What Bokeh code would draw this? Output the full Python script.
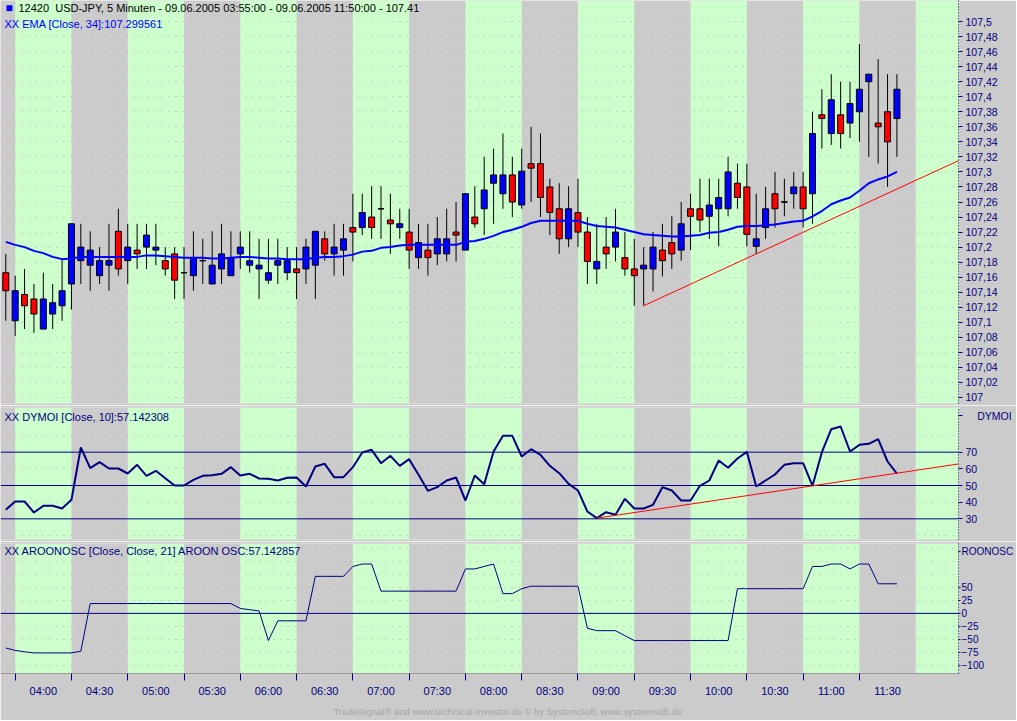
from bokeh.plotting import figure
from bokeh.layouts import column
from bokeh.models import (Range1d, FixedTicker, Label, Span, Title,
                          CustomJSTickFormatter, ColumnDataSource)
from bokeh.embed import file_html
from bokeh.resources import INLINE

# ---------------- data ----------------
opens = [107.166, 107.102, 107.137, 107.131, 107.091, 107.111, 107.122, 107.151, 107.182, 107.176,
         107.162, 107.176, 107.221, 107.182, 107.196, 107.200, 107.196, 107.182, 107.191, 107.166,
         107.162, 107.182, 107.151, 107.171, 107.162, 107.191, 107.176, 107.171, 107.156, 107.176,
         107.166, 107.171, 107.171, 107.176, 107.211, 107.191, 107.196, 107.226, 107.226, 107.240,
         107.251, 107.236, 107.226, 107.220, 107.186, 107.196, 107.191, 107.191, 107.220, 107.196,
         107.240, 107.251, 107.285, 107.271, 107.296, 107.256, 107.311, 107.311, 107.280, 107.251,
         107.211, 107.246, 107.220, 107.171, 107.200, 107.200, 107.186, 107.171, 107.171, 107.171,
         107.196, 107.206, 107.196, 107.251, 107.251, 107.241, 107.251, 107.251, 107.285, 107.280,
         107.201, 107.226, 107.271, 107.260, 107.271, 107.280, 107.271, 107.376, 107.351, 107.376,
         107.365, 107.380, 107.420, 107.365, 107.380, 107.371]
highs = [107.191, 107.162, 107.171, 107.151, 107.166, 107.151, 107.184, 107.231, 107.231, 107.221,
         107.200, 107.231, 107.251, 107.231, 107.231, 107.231, 107.231, 107.200, 107.200, 107.200,
         107.221, 107.211, 107.221, 107.231, 107.221, 107.221, 107.221, 107.211, 107.211, 107.211,
         107.200, 107.200, 107.211, 107.221, 107.221, 107.231, 107.231, 107.271, 107.271, 107.281,
         107.281, 107.271, 107.251, 107.251, 107.231, 107.231, 107.240, 107.251, 107.260, 107.271,
         107.281, 107.320, 107.331, 107.351, 107.320, 107.331, 107.360, 107.351, 107.291, 107.285,
         107.281, 107.291, 107.240, 107.231, 107.240, 107.251, 107.220, 107.211, 107.200, 107.220,
         107.231, 107.241, 107.260, 107.271, 107.291, 107.291, 107.291, 107.320, 107.311, 107.311,
         107.271, 107.280, 107.300, 107.291, 107.300, 107.300, 107.380, 107.410, 107.430, 107.420,
         107.420, 107.470, 107.430, 107.450, 107.430, 107.430]
lows = [107.102, 107.082, 107.091, 107.086, 107.091, 107.091, 107.102, 107.117, 107.151, 107.142,
        107.151, 107.142, 107.162, 107.151, 107.171, 107.171, 107.176, 107.162, 107.131, 107.131,
        107.142, 107.151, 107.151, 107.151, 107.162, 107.171, 107.166, 107.131, 107.151, 107.151,
        107.156, 107.131, 107.151, 107.131, 107.182, 107.162, 107.162, 107.181, 107.216, 107.211,
        107.211, 107.191, 107.211, 107.171, 107.171, 107.162, 107.176, 107.181, 107.181, 107.196,
        107.226, 107.216, 107.231, 107.251, 107.240, 107.251, 107.260, 107.240, 107.216, 107.191,
        107.200, 107.200, 107.151, 107.151, 107.171, 107.181, 107.162, 107.122, 107.122, 107.141,
        107.161, 107.171, 107.182, 107.196, 107.220, 107.211, 107.201, 107.241, 107.251, 107.201,
        107.191, 107.211, 107.226, 107.241, 107.251, 107.226, 107.231, 107.331, 107.336, 107.331,
        107.345, 107.340, 107.320, 107.311, 107.280, 107.320]
closes = [107.142, 107.142, 107.122, 107.111, 107.131, 107.126, 107.142, 107.231, 107.200, 107.196,
          107.182, 107.182, 107.171, 107.200, 107.191, 107.216, 107.200, 107.171, 107.156, 107.166,
          107.186, 107.182, 107.176, 107.191, 107.186, 107.200, 107.182, 107.176, 107.166, 107.182,
          107.182, 107.166, 107.200, 107.221, 107.191, 107.200, 107.211, 107.220, 107.246, 107.226,
          107.251, 107.231, 107.231, 107.196, 107.206, 107.186, 107.211, 107.211, 107.216, 107.271,
          107.231, 107.276, 107.296, 107.296, 107.260, 107.301, 107.305, 107.266, 107.246, 107.211,
          107.251, 107.220, 107.181, 107.181, 107.191, 107.220, 107.171, 107.162, 107.176, 107.200,
          107.182, 107.191, 107.231, 107.241, 107.236, 107.256, 107.266, 107.300, 107.266, 107.217,
          107.211, 107.251, 107.251, 107.260, 107.280, 107.251, 107.351, 107.371, 107.396, 107.351,
          107.391, 107.410, 107.430, 107.360, 107.340, 107.410]
ema34 = [107.207, 107.203, 107.200, 107.195, 107.192, 107.187, 107.184, 107.185, 107.187, 107.187,
         107.187, 107.187, 107.187, 107.187, 107.187, 107.189, 107.189, 107.188, 107.187, 107.186,
         107.186, 107.186, 107.185, 107.185, 107.186, 107.187, 107.187, 107.186, 107.185, 107.185,
         107.184, 107.184, 107.184, 107.186, 107.187, 107.187, 107.188, 107.190, 107.194, 107.195,
         107.199, 107.200, 107.202, 107.203, 107.203, 107.203, 107.203, 107.203, 107.203, 107.207,
         107.208, 107.211, 107.215, 107.220, 107.223, 107.227, 107.232, 107.235, 107.235, 107.235,
         107.235, 107.235, 107.231, 107.228, 107.227, 107.226, 107.223, 107.220, 107.217, 107.216,
         107.215, 107.214, 107.214, 107.215, 107.216, 107.219, 107.220, 107.223, 107.227, 107.228,
         107.228, 107.229, 107.230, 107.232, 107.234, 107.235, 107.241, 107.248, 107.257, 107.262,
         107.266, 107.275, 107.285, 107.290, 107.294, 107.300]
dymoi = [35.4, 40.4, 40.4, 33.8, 37.8, 37.8, 36.2, 41.4, 72.8, 60.4,
         64.0, 60.2, 60.2, 57.2, 62.4, 55.8, 58.8, 54.4, 50.0, 50.0,
         53.4, 55.8, 56.2, 57.0, 61.0, 56.0, 57.0, 54.2, 54.0, 53.0,
         54.6, 54.8, 49.4, 61.4, 63.0, 55.0, 55.0, 61.0, 69.8, 71.4,
         63.4, 67.8, 61.8, 65.8, 56.4, 46.8, 49.0, 53.0, 54.8, 41.0,
         56.0, 50.8, 70.4, 79.8, 79.8, 67.4, 71.8, 68.4, 61.8, 57.4,
         51.0, 47.0, 34.4, 30.4, 34.0, 32.4, 42.0, 36.2, 36.2, 38.4,
         49.0, 47.0, 41.0, 41.0, 49.8, 53.0, 65.0, 60.6, 66.2, 70.2,
         49.4, 53.0, 56.6, 62.4, 63.4, 63.4, 49.8, 70.0, 83.8, 85.4,
         70.4, 74.4, 75.0, 77.8, 64.4, 57.1]
aroon = [-66.7, -71.4, -74.0, -76.2, -76.2, -76.2, -76.2, -76.2, -73.0, 19.0,
         19.0, 19.0, 19.0, 19.0, 19.0, 19.0, 19.0, 19.0, 19.0, 19.0,
         19.0, 19.0, 19.0, 19.0, 19.0, 9.5, 7.1, 4.8, -52.4, -14.3,
         -14.3, -14.3, -14.3, 71.4, 71.4, 71.4, 71.4, 90.5, 95.2, 95.2,
         42.9, 42.9, 42.9, 42.9, 42.9, 42.9, 42.9, 42.9, 42.9, 85.7,
         85.7, 90.5, 95.2, 38.1, 38.1, 47.6, 52.4, 52.4, 52.4, 52.4,
         52.4, 52.4, -28.6, -33.3, -33.3, -33.3, -42.9, -52.4, -52.4, -52.4,
         -52.4, -52.4, -52.4, -52.4, -52.4, -52.4, -52.4, -52.4, 47.6, 47.6,
         47.6, 47.6, 47.6, 47.6, 47.6, 47.6, 90.5, 90.5, 95.2, 95.2,
         85.7, 95.2, 95.2, 57.1, 57.1, 57.1]

time_labels = ["04:00", "04:30", "05:00", "05:30", "06:00", "06:30", "07:00", "07:30",
               "08:00", "08:30", "09:00", "09:30", "10:00", "10:30", "11:00", "11:30"]
price_ticks = [107.0, 107.02, 107.04, 107.06, 107.08, 107.1, 107.12, 107.14, 107.16, 107.18,
               107.2, 107.22, 107.24, 107.26, 107.28, 107.3, 107.32, 107.34, 107.36, 107.38,
               107.4, 107.42, 107.44, 107.46, 107.48, 107.5]
dymoi_ticks = [30, 40, 50, 60, 70]
dymoi_grid = [20, 40, 60, 80]
dymoi_levels = [30, 50, 70]
aroon_ticks = [-100, -75, -50, -25, 0, 25, 50]
aroon_grid = [-100, -75, -50, -25, 25, 50, 75, 100, 125]
price_trend_bars = [68, 80]     # trend line through these lows
dymoi_trend_bars = [63, 86]     # trend line through these DYMOI values
dymoi_header = "DYMOI"
aroon_header = "ROONOSC"

# ---------------- style ----------------
GRAY = "#cbcbcb"
GREEN = "#ccffcc"
NAVY = "#000080"
GRIDC = "#c2a6c2"
FONT = "Liberation Sans"
W = 1016
BARS_PER_BAND = 6
n = len(closes)
bars = list(range(n))
XR = (-0.564, 101.564)

band_edges = [1 + BARS_PER_BAND * k for k in range(len(time_labels))]
label_pos = [e + BARS_PER_BAND / 2 for e in band_edges]
green_left = [1 + 2 * BARS_PER_BAND * k for k in range(9)]
green_right = [g + BARS_PER_BAND for g in green_left]


def make_fig(height, yr, top_b, bottom_b, xaxis, font_size="10.5px", tick_out=4, standoff=3):
    p = figure(width=W, height=height, x_range=Range1d(*XR), y_range=Range1d(*yr),
               output_backend="svg", toolbar_location=None, tools="",
               x_axis_location="below" if xaxis else None, y_axis_location="right",
               min_border_left=0, min_border_right=56, min_border_top=top_b,
               min_border_bottom=bottom_b)
    p.background_fill_color = GRAY
    p.border_fill_color = GRAY
    p.outline_line_color = None
    p.xgrid.grid_line_color = None
    p.ygrid.grid_line_color = GRIDC
    p.ygrid.grid_line_dash = "1 6"
    p.ygrid.grid_line_width = 1
    p.quad(left=green_left, right=green_right, top=[yr[1]] * len(green_left),
           bottom=[yr[0]] * len(green_left), fill_color=GREEN, line_color=None, level="image")
    ax = p.yaxis[0]
    ax.axis_line_color = NAVY
    ax.axis_line_dash = "1 2"
    ax.major_tick_out = tick_out
    ax.major_tick_in = 0
    ax.minor_tick_out = 0
    ax.minor_tick_in = 0
    ax.major_tick_line_color = NAVY
    ax.major_label_text_color = NAVY
    ax.major_label_text_font = FONT
    ax.major_label_text_font_size = font_size
    ax.major_label_standoff = standoff
    return p


def title(p, text, x, y, color, size="11px", align="left"):
    p.add_layout(Label(x=x, y=y, x_units="screen", y_units="screen", text=text,
                       text_color=color, text_font=FONT, text_font_size=size,
                       text_align=align, text_baseline="middle"))


# ---------------- price panel ----------------
p1 = make_fig(405, (106.992, 107.528), 0, 2, False)
p1.yaxis[0].ticker = FixedTicker(ticks=price_ticks)
p1.ygrid.ticker = FixedTicker(ticks=price_ticks)
p1.yaxis[0].formatter = CustomJSTickFormatter(
    code="return tick.toFixed(2).replace(/0+$/, '').replace(/[.]$/, '').replace('.', ',');")

colors = ["#0000ff" if c > o else ("#ff0000" if c < o else "#000000") for o, c in zip(opens, closes)]
src = ColumnDataSource(dict(x=bars, high=highs, low=lows,
                            top=[max(o, c) for o, c in zip(opens, closes)],
                            bottom=[min(o, c) for o, c in zip(opens, closes)],
                            color=colors))
p1.segment(x0="x", y0="low", x1="x", y1="high", source=src, line_color="black", line_width=1)
p1.vbar(x="x", width=0.64, top="top", bottom="bottom", fill_color="color",
        line_color="black", line_width=1, source=src)
doji = [i for i in bars if opens[i] == closes[i]]
p1.segment(x0=[i - 0.32 for i in doji], y0=[closes[i] for i in doji],
           x1=[i + 0.32 for i in doji], y1=[closes[i] for i in doji],
           line_color="black", line_width=1)
p1.line(bars, ema34, line_color="#0000ff", line_width=2)

a, b = price_trend_bars
slope = (lows[b] - lows[a]) / (b - a)
p1.line([a, XR[1]], [lows[a], lows[a] + slope * (XR[1] - a)], line_color="#ff0000", line_width=1)

title(p1, "\u25a0", 5, 395.5, "#0000ff", "12px")
title(p1, "12420\u00a0 USD-JPY, 5 Minuten - 09.06.2005 03:55:00 - 09.06.2005 11:50:00 - 107.41",
      18, 395.5, "#000000")
title(p1, "XX EMA [Close, 34]:107.299561", 4, 379.5, "#0000ff")

# ---------------- DYMOI panel ----------------
p2 = make_fig(136, (17.6, 96.8), 2, 2, False)
dy_head_pos = 92.0
p2.yaxis[0].ticker = FixedTicker(ticks=dymoi_ticks + [dy_head_pos])
p2.yaxis[0].major_label_overrides = {dy_head_pos: "\u00a0\u00a0\u00a0\u00a0" + dymoi_header}
p2.ygrid.ticker = FixedTicker(ticks=dymoi_grid)
for lv in dymoi_levels:
    p2.add_layout(Span(location=lv, dimension="width", line_color=NAVY, line_width=1, level="underlay"))
p2.line(bars, dymoi, line_color=NAVY, line_width=2)
a, b = dymoi_trend_bars
slope = (dymoi[b] - dymoi[a]) / (b - a)
p2.line([a, XR[1]], [dymoi[a], dymoi[a] + slope * (XR[1] - a)], line_color="#ff0000", line_width=1)
title(p2, "XX DYMOI [Close, 10]:57.142308", 4, 122.8, NAVY)

# ---------------- AROON panel ----------------
p3 = make_fig(179, (-115.9, 134.75), 2, 46, True, font_size="10px", tick_out=2, standoff=1)
ar_head_pos = 119.1
p3.yaxis[0].ticker = FixedTicker(ticks=aroon_ticks + [ar_head_pos])
p3.yaxis[0].major_label_overrides = {ar_head_pos: aroon_header}
p3.ygrid.ticker = FixedTicker(ticks=aroon_grid)
p3.add_layout(Span(location=0, dimension="width", line_color=NAVY, line_width=1, level="underlay"))
p3.line(bars, aroon, line_color=NAVY, line_width=1)
title(p3, "XX AROONOSC [Close, Close, 21] AROON OSC:57.142857", 4, 122.2, NAVY)

xa = p3.xaxis[0]
xa.ticker = FixedTicker(ticks=label_pos, minor_ticks=band_edges)
xa.major_label_overrides = {pos: lab for pos, lab in zip(label_pos, time_labels)}
xa.major_tick_out = 0
xa.major_tick_in = 0
xa.major_tick_line_color = None
xa.minor_tick_out = 7
xa.minor_tick_in = 0
xa.minor_tick_line_color = NAVY
xa.axis_line_color = "#9a9a9a"
xa.major_label_text_color = NAVY
xa.major_label_text_font = FONT
xa.major_label_text_font_size = "11px"
xa.major_label_standoff = 4

p3.add_layout(Title(text="TradeSignal\u00ae and www.technical-investor.de \u00a9 by  SystemSoft, www.systemsoft.de",
                    align="left", offset=333, standoff=8, text_font=FONT, text_font_size="9.5px",
                    text_font_style="normal", text_color="#a4a4a4"), "below")

layout = column(p1, p2, p3, spacing=0)
open("out.html", "w").write(file_html(layout, INLINE))
